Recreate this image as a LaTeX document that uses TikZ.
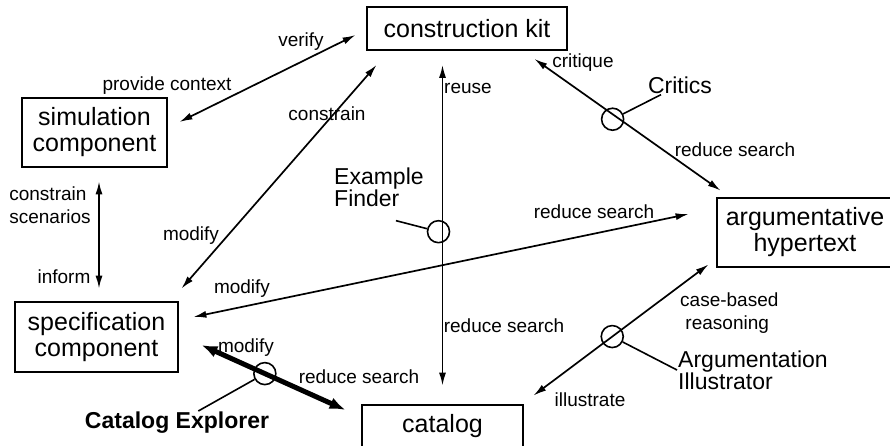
\documentclass[tikz,border=0pt]{standalone}
\usepackage{fontspec}
\setmainfont{Liberation Sans}
\usetikzlibrary{arrows.meta,calc}

\begin{document}
\begin{tikzpicture}[
  x=1pt, y=-1pt,
  box/.style={draw, line width=2.8pt, align=center, inner sep=0pt,
    font=\fontsize{25}{26}\selectfont},
  lbl/.style={inner sep=1pt, align=left, font=\fontsize{19}{23}\selectfont},
  note/.style={inner sep=1pt, align=left, font=\fontsize{23}{22}\selectfont},
  link/.style={line width=1.7pt, {Latex[length=13pt,width=7pt]}-{Latex[length=13pt,width=7pt]}},
  heavy/.style={line width=5pt, {Latex[length=16pt,width=12pt]}-{Latex[length=16pt,width=12pt]}},
  hub/.style={draw, circle, line width=1.6pt, minimum size=22pt, inner sep=0pt},
  callout/.style={line width=1.6pt},
]
  \useasboundingbox (0,0) rectangle (890,445);
  \fill[white] (0,0) rectangle (890,445);
  \clip (0,0) rectangle (890,445);

  % components
  \node[box, minimum width=200pt, minimum height=43pt] (ck) at (467,28.5) {construction kit};
  \node[box, minimum width=145pt, minimum height=69pt] (sim) at (94.5,132.5) {simulation\\component};
  \node[box, minimum width=163pt, minimum height=70pt] (spec) at (96.5,337) {specification\\component};
  \node[box, minimum width=161pt, minimum height=43pt] (cat) at (442.5,426.5) {catalog};
  \node[box, minimum width=176pt, minimum height=69pt] (arg) at (805,232.5) {argumentative\\hypertext};

  % links
  \draw[link] ($(sim.east)+(11,-10.5)$) -- ($(ck.west)+(-10,6.5)$);
  \draw[link] ($(spec.north east)+(2,-12)$) -- ($(ck.south west)+(11,13.5)$);
  \draw[link] ($(cat.north |- ck.south)+(0,13.5)$)
    -- node[hub, pos=0.52, xshift=-4pt] (finderhub) {} ($(cat.north)+(0,-18)$);
  \draw[link] ($(ck.south east)+(-34,7.5)$)
    -- node[hub, pos=0.42, yshift=-5pt] (critichub) {} ($(arg.north west)+(5,-6)$);
  \draw[link] ($(arg.west)+(-27,-18.5)$) -- ($(spec.east)+(14,-20)$);
  \draw[heavy] ($(spec.east)+(22,8)$)
    -- node[hub, pos=0.44] (explorerhub) {} ($(cat.west)+(-15,-16.5)$);
  \draw[link] ($(cat.north east)+(9,-8)$)
    -- node[hub, pos=0.45] (illushub) {} ($(arg.south west)+(-7,-4)$);
  \draw[link] ($(sim.south)+(4.5,13)$) -- ($(sim.south |- spec.north)+(4.5,-12)$);

  % link labels
  \node[lbl] (verify) at (301,42) {verify};
  \node[lbl] (context) at (167,86) {provide context};
  \node[lbl] (constrain) at (327,114) {constrain};
  \node[lbl] (modifyck) at (191,236) {modify};
  \node[lbl] (scenarios) at (50,205) {constrain\\scenarios};
  \node[lbl] (inform) at (64,277) {inform};
  \node[lbl] (reuse) at (468,88) {reuse};
  \node[lbl] (critique) at (583,63) {critique};
  \node[lbl] (searcharg) at (735,150) {reduce search};
  \node[lbl] (searchspec) at (594,212) {reduce search};
  \node[lbl] (modifyarg) at (242,289) {modify};
  \node[lbl] (searchcat) at (504,326) {reduce search};
  \node[lbl] (modifycat) at (246,348) {modify};
  \node[lbl] (searchheavy) at (359,377) {reduce search};
  \node[lbl, anchor=west] (casebased) at (679,313) {case-based\\\ reasoning};
  \node[lbl] (illustrate) at (590,400) {illustrate};

  % agents
  \node[note] (critics) at (680,85) {Critics};
  \node[note, anchor=west] (finder) at (333,187) {Example\\Finder};
  \node[note, anchor=west] (illus) at (677,370) {Argumentation\\Illustrator};
  \node[note, font=\fontsize{23}{22}\selectfont\bfseries] (explorer) at (177,423) {Catalog Explorer};

  \draw[callout] (critichub) -- (critics);
  \draw[callout] (finderhub) -- ($(finder.south)+(17,13)$);
  \draw[callout] (explorerhub) -- (explorer);
  \draw[callout] (illushub) -- (illus.west);
\end{tikzpicture}
\end{document}
